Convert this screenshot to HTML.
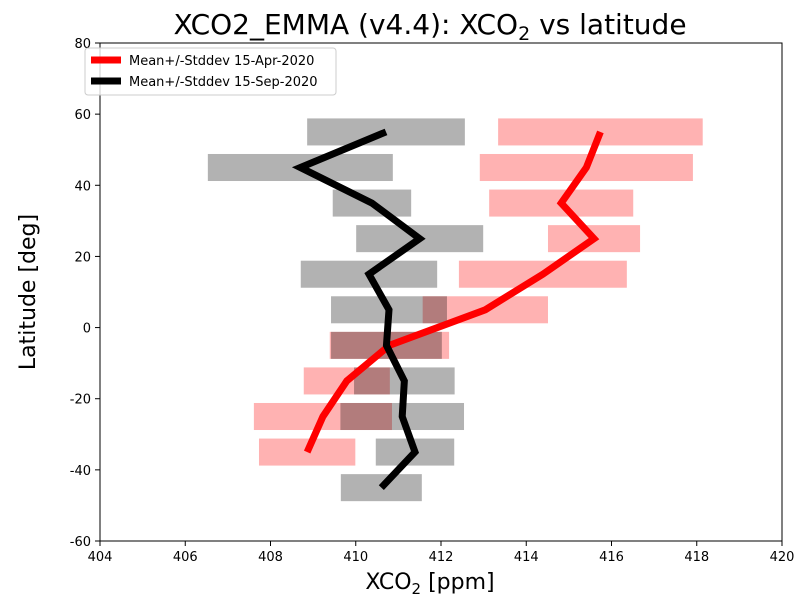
<!DOCTYPE html>
<html><head><meta charset="utf-8"><style>
body{margin:0;background:#fff;font-family:"Liberation Sans","DejaVu Sans",sans-serif;}
svg text{font-family:"DejaVu Sans","Liberation Sans",sans-serif;}
</style></head><body>
<svg id="chart" width="804" height="607" xmlns="http://www.w3.org/2000/svg">
<rect width="804" height="607" fill="#fff"/>
<text x="430" y="34" font-size="28" text-anchor="middle">XCO2_EMMA (v4.4): XCO<tspan font-size="19" dy="6">2</tspan><tspan dy="-6"> vs latitude</tspan></text>
<g id="bars"></g><g id="lines"></g>
<rect x="100" y="43" width="682" height="498" fill="none" stroke="#000" stroke-width="1"/>
<g id="axes"></g>
<text x="430" y="589" font-size="22" text-anchor="middle">XCO<tspan font-size="15" dy="5">2</tspan><tspan dy="-5"> [ppm]</tspan></text>
<text transform="translate(35,292) rotate(-90)" font-size="22" text-anchor="middle">Latitude [deg]</text>
<g>
<rect x="85" y="48" width="251" height="47" rx="3" fill="#fff" fill-opacity="0.8" stroke="#ccc"/>
<line x1="91" y1="60" x2="121" y2="60" stroke="#f00" stroke-width="7"/>
<text x="129" y="65" font-size="13">Mean+/-Stddev 15-Apr-2020</text>
<line x1="91" y1="81" x2="121" y2="81" stroke="#000" stroke-width="7"/>
<text x="129" y="86" font-size="13">Mean+/-Stddev 15-Sep-2020</text>
</g>
</svg>
<script>
const aprLat=[55,45,35,25,15,5,-5,-15,-25,-35];
const aprMean=[415.74,415.41,414.82,415.59,414.39,413.04,410.79,409.79,409.23,408.86];
const aprStd=[2.40,2.50,1.69,1.08,1.97,1.47,1.40,1.01,1.62,1.13];
const sepLat=[55,45,35,25,15,5,-5,-15,-25,-35,-45];
const sepMean=[410.71,408.70,410.38,411.50,410.31,410.78,410.72,411.14,411.09,411.39,410.60];
const sepStd=[1.85,2.17,0.92,1.49,1.60,1.36,1.30,1.18,1.45,0.92,0.95];
const xTicks=[404,406,408,410,412,414,416,418,420];
const yTicks=[-60,-40,-20,0,20,40,60,80];
const NS="http://www.w3.org/2000/svg";
const X=v=>100+(v-404)*682/16, Y=v=>43+(80-v)*498/140;
function mk(t,a,p){const e=document.createElementNS(NS,t);for(const k in a)e.setAttribute(k,a[k]);p.appendChild(e);return e;}
const bars=document.getElementById('bars'),lines=document.getElementById('lines'),axes=document.getElementById('axes');
function drawBars(lat,mean,std,col,nm){lat.forEach((l,i)=>{const r=mk('rect',{x:X(mean[i]-std[i]),y:Y(l+3.8),width:X(mean[i]+std[i])-X(mean[i]-std[i]),height:Y(l-3.8)-Y(l+3.8),fill:col,'fill-opacity':0.3},bars);

});}
drawBars(aprLat,aprMean,aprStd,'#f00','apr');
drawBars(sepLat,sepMean,sepStd,'#000','sep');
function drawLine(lat,mean,col,nm){const p=mk('polyline',{points:lat.map((l,i)=>X(mean[i])+','+Y(l)).join(' '),fill:'none',stroke:col,'stroke-width':7,'stroke-linejoin':'miter'},lines);

}
drawLine(aprLat,aprMean,'#f00','apr');
drawLine(sepLat,sepMean,'#000','sep');
xTicks.forEach(t=>{mk('line',{x1:X(t),x2:X(t),y1:541,y2:546,stroke:'#000'},axes);const e=mk('text',{x:X(t),y:561,'font-size':13,'text-anchor':'middle'},axes);e.textContent=t;

});
yTicks.forEach(t=>{mk('line',{x1:95,x2:100,y1:Y(t),y2:Y(t),stroke:'#000'},axes);const e=mk('text',{x:91,y:Y(t)+5,'font-size':13,'text-anchor':'end'},axes);e.textContent=t;

});
</script>
</body></html>
